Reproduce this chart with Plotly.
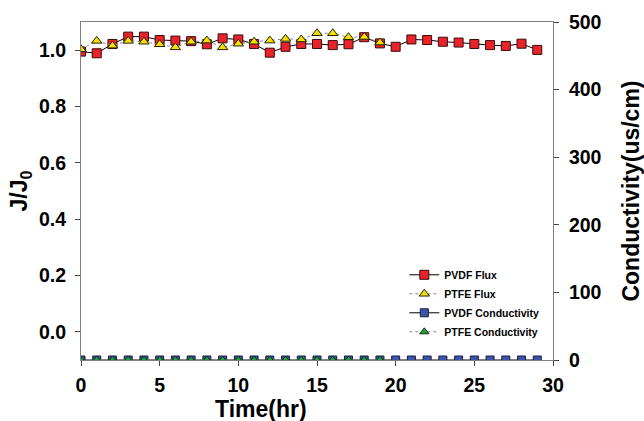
import plotly.graph_objects as go

time_pvdf = list(range(0, 30))
time_ptfe = list(range(0, 20))

pvdf_flux = [0.995, 0.989, 1.022, 1.048, 1.048, 1.036, 1.034, 1.032, 1.021, 1.042,
             1.038, 1.022, 0.991, 1.012, 1.022, 1.022, 1.018, 1.021, 1.046, 1.024,
             1.012, 1.038, 1.036, 1.030, 1.027, 1.022, 1.018, 1.015, 1.023, 1.001]
ptfe_flux = [1.003, 1.033, 1.016, 1.033, 1.030, 1.021, 1.010, 1.030, 1.034, 1.010,
             1.023, 1.030, 1.034, 1.040, 1.038, 1.060, 1.060, 1.046, 1.047, 1.027]
pvdf_cond = [0] * 30
ptfe_cond = [0] * 20

x_ticks = [0, 5, 10, 15, 20, 25, 30]
y1_ticks = [0.0, 0.2, 0.4, 0.6, 0.8, 1.0]
y2_ticks = [0, 100, 200, 300, 400, 500]

FONT = "Liberation Sans, Arial, sans-serif"
TICK = dict(family=FONT, size=19.5, color="black", weight="bold")
TITLE = dict(family=FONT, size=23, color="black", weight="bold")

fig = go.Figure()

fig.add_trace(go.Scatter(
    x=time_pvdf, y=pvdf_cond, name="PVDF Conductivity", yaxis="y2",
    mode="lines+markers", line=dict(color="black", width=1),
    marker=dict(symbol="square", size=8, color="#3a56a8", line=dict(color="#1a1a3a", width=1)),
    legendrank=3))
fig.add_trace(go.Scatter(
    x=time_ptfe, y=ptfe_cond, name="PTFE Conductivity", yaxis="y2",
    mode="lines+markers", line=dict(color="#888888", width=1, dash="dot"),
    marker=dict(symbol="triangle-up", size=8, color="#22a040", line=dict(color="#103010", width=1)),
    legendrank=4))
fig.add_trace(go.Scatter(
    x=time_pvdf, y=pvdf_flux, name="PVDF Flux",
    mode="lines+markers", line=dict(color="black", width=1),
    marker=dict(symbol="square", size=9, color="#e8232b", line=dict(color="#3a0a0a", width=1)),
    legendrank=1))
fig.add_trace(go.Scatter(
    x=time_ptfe, y=ptfe_flux, name="PTFE Flux",
    mode="lines+markers", line=dict(color="#888888", width=1, dash="dot"),
    marker=dict(symbol="triangle-up", size=9, color="#f5e100", line=dict(color="#202000", width=1)),
    legendrank=2))

fig.update_layout(
    width=644, height=421,
    margin=dict(l=81, r=91, t=22, b=61, autoexpand=False),
    paper_bgcolor="white", plot_bgcolor="white",
    font=dict(family=FONT, color="black"),
    showlegend=True,
    legend=dict(x=0.685, y=0.295, xanchor="left", yanchor="top",
                font=dict(family=FONT, size=10.5, color="black", weight="bold"),
                bgcolor="rgba(0,0,0,0)", itemwidth=30, tracegroupgap=0),
    xaxis=dict(range=[0, 30], tickvals=x_ticks, ticks="outside", ticklen=5,
               tickfont=TICK, ticklabelstandoff=3, automargin=False,
               showline=True, linecolor="#808080", mirror=True, showgrid=False,
               zeroline=False),
    yaxis=dict(range=[-0.1, 1.1], tickvals=y1_ticks, tickformat=".1f",
               ticks="outside", ticklen=5, ticklabelstandoff=5, automargin=False,
               tickfont=TICK,
               showline=True, linecolor="#808080", showgrid=False, zeroline=False,
               title=dict(text="J/J<sub>0</sub>", standoff=4, font=TITLE)),
    yaxis2=dict(range=[0, 500], tickvals=y2_ticks, overlaying="y", side="right",
                ticks="outside", ticklen=5, ticklabelstandoff=6, automargin=False,
                tickfont=TICK,
                showline=True, linecolor="#808080", showgrid=False, zeroline=False,
                title=dict(text="Conductivity(us/cm)", standoff=26, font=TITLE)),
    annotations=[dict(text="Time(hr)", x=0.381, y=-0.145, xref="paper", yref="paper",
                      xanchor="center", yanchor="middle", showarrow=False,
                      font=TITLE)],
)

fig.write_html("out.html")
